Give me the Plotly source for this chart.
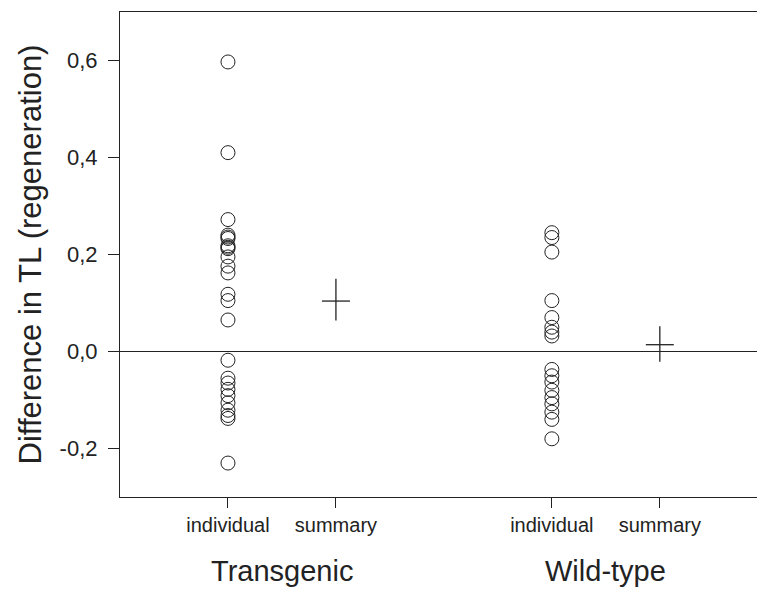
import plotly.graph_objects as go

# ---- data ----
transgenic_individual = [0.597, 0.410, 0.272, 0.240, 0.236, 0.233, 0.218, 0.215, 0.212,
                         0.195, 0.176, 0.162, 0.118, 0.105, 0.065,
                         -0.018, -0.055, -0.065, -0.078, -0.091, -0.106, -0.121,
                         -0.132, -0.138, -0.230]
wildtype_individual = [0.245, 0.235, 0.205, 0.105, 0.070, 0.050, 0.040, 0.032,
                       -0.037, -0.050, -0.063, -0.080, -0.095, -0.108, -0.125,
                       -0.140, -0.180]
summary_mean = [0.104, 0.014]
summary_upper = [0.150, 0.052]
summary_lower = [0.064, -0.021]

positions_individual = [1, 4]
positions_summary = [2, 5]
tick_vals = [1, 2, 4, 5]
tick_text = ["individual", "summary", "individual", "summary"]
group_labels = ["Transgenic", "Wild-type"]
group_pos = [1.5, 4.5]
y_ticks = [-0.2, 0.0, 0.2, 0.4, 0.6]
y_tick_text = ["-0,2", "0,0", "0,2", "0,4", "0,6"]

FONT = "Liberation Sans, Arial, sans-serif"
INK = "#222222"

fig = go.Figure()

for pos, vals in zip(positions_individual, [transgenic_individual, wildtype_individual]):
    fig.add_trace(go.Scatter(
        x=[pos] * len(vals), y=vals, mode="markers",
        marker=dict(symbol="circle-open", size=14, color=INK, line=dict(width=1, color=INK)),
        showlegend=False, hoverinfo="y"))

fig.add_trace(go.Scatter(
    x=positions_summary, y=summary_mean, mode="markers",
    marker=dict(symbol="line-ew", size=20, line=dict(width=1.3, color=INK), color=INK),
    error_y=dict(type="data", symmetric=False,
                 array=[u - m for u, m in zip(summary_upper, summary_mean)],
                 arrayminus=[m - l for m, l in zip(summary_mean, summary_lower)],
                 width=0, thickness=1.3, color=INK),
    showlegend=False, hoverinfo="y"))

# zero reference line
fig.add_shape(type="line", xref="paper", x0=0, x1=1, yref="y", y0=0, y1=0,
              line=dict(color=INK, width=1.2))

for g, p in zip(group_labels, group_pos):
    fig.add_annotation(x=p, xref="x", y=-0.152, yref="paper", yanchor="middle",
                       text=g, showarrow=False,
                       font=dict(family=FONT, size=29, color=INK))

fig.update_layout(
    width=757, height=590,
    margin=dict(l=120, r=0, t=12, b=93),
    paper_bgcolor="white", plot_bgcolor="white",
    font=dict(family=FONT, color=INK),
    xaxis=dict(range=[0, 5.9], tickvals=tick_vals, ticktext=tick_text,
               showgrid=False, zeroline=False, showline=True, linecolor=INK, linewidth=1.2,
               mirror=True, ticks="outside", ticklen=10, tickcolor=INK, tickwidth=1,
               tickfont=dict(family=FONT, size=20, color=INK)),
    yaxis=dict(range=[-0.3, 0.7], tickvals=y_ticks, ticktext=y_tick_text,
               showgrid=False, zeroline=False, showline=True, linecolor=INK, linewidth=1.2,
               ticks="outside", ticklen=11, tickcolor=INK, tickwidth=1,
               ticklabelstandoff=6,
               tickfont=dict(family=FONT, size=22, color=INK),
               title=dict(text="Difference in TL (regeneration)", standoff=8,
                          font=dict(family=FONT, size=31, color=INK))),
)

fig.write_html("out.html", config={"displayModeBar": False},
               post_script="document.body.style.margin='0';")
